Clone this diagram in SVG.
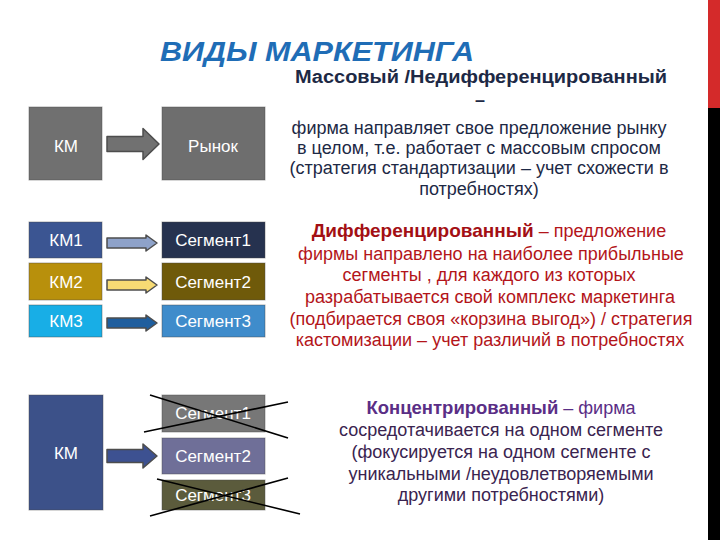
<svg xmlns="http://www.w3.org/2000/svg" width="720" height="540" viewBox="0 0 720 540">
<style>
  text { font-family: "Liberation Sans", Arial, sans-serif; }
  .box { stroke: #4a4a4a; stroke-opacity: 0.45; stroke-width: 1; }
  .lbl { fill: #ffffff; font-size: 17px; text-anchor: middle; }
  .arr { stroke: #4d4d4d; stroke-width: 1.5; stroke-linejoin: round; }
  .cross { stroke: #000; stroke-width: 1.6; }
  .mass { fill: #1d2945; font-size: 18px; text-anchor: middle; }
  .diff { fill: #b3151a; font-size: 18px; text-anchor: middle; }
  .conc { fill: #3a2450; font-size: 18px; text-anchor: middle; }
</style>
<rect width="720" height="540" fill="#ffffff"/>
<rect x="708" y="0" width="12" height="108" fill="#d42a2a"/>
<rect x="708" y="108" width="12" height="432" fill="#000000"/>

<text x="160" y="61" font-size="28" font-weight="bold" font-style="italic" fill="#1f6db6" textLength="314" lengthAdjust="spacingAndGlyphs">ВИДЫ МАРКЕТИНГА</text>

<g id="mass-node-km">
  <rect class="box" x="29" y="107" width="73" height="73" fill="#707070"/>
  <text class="lbl" x="66" y="152">КМ</text>
</g>
<g id="mass-node-market">
  <rect class="box" x="162" y="107" width="103" height="73" fill="#6e6e6e"/>
  <text class="lbl" x="213" y="152" fill="#eeeeee">Рынок</text>
</g>

<g id="diff-node-km1"><rect class="box" x="29" y="222" width="73" height="36" fill="#3b5592"/><text class="lbl" x="66" y="246">КМ1</text></g>
<g id="diff-node-seg1"><rect class="box" x="162" y="222" width="103" height="36" fill="#26324f"/><text class="lbl" x="213" y="246">Сегмент1</text></g>
<g id="diff-node-km2"><rect class="box" x="29" y="263" width="73" height="37" fill="#b8900c"/><text class="lbl" x="66" y="288">КМ2</text></g>
<g id="diff-node-seg2"><rect class="box" x="162" y="263" width="103" height="37" fill="#6f5a0a"/><text class="lbl" x="213" y="288">Сегмент2</text></g>
<g id="diff-node-km3"><rect class="box" x="29" y="305" width="73" height="32" fill="#18aee6"/><text class="lbl" x="66" y="327">КМ3</text></g>
<g id="diff-node-seg3"><rect class="box" x="162" y="305" width="103" height="32" fill="#3f8ccb"/><text class="lbl" x="213" y="327">Сегмент3</text></g>

<g id="conc-node-km"><rect class="box" x="29" y="395" width="74" height="115" fill="#3c5189"/><text class="lbl" x="66" y="459">КМ</text></g>
<g id="conc-node-seg1"><rect class="box" x="162" y="395" width="103" height="37" fill="#777777"/><text class="lbl" x="213" y="419">Сегмент1</text></g>
<g id="conc-node-seg2"><rect class="box" x="162" y="438" width="103" height="36" fill="#6f6f98"/><text class="lbl" x="213" y="462">Сегмент2</text></g>
<g id="conc-node-seg3"><rect class="box" x="162" y="480" width="103" height="30" fill="#5b5b3c"/><text class="lbl" x="213" y="501">Сегмент3</text></g>

<g id="connectors">
  <path class="arr" fill="#717171" d="M107,136.5 H143 V128.5 L159,144 L143,159.5 V151.5 H107 Z"/>
  <path class="arr" fill="#8ea2c9" d="M107,238 H146 V235 L157,243 L146,251 V248 H107 Z"/>
  <path class="arr" fill="#f7db74" d="M107,280 H146 V277 L157,285 L146,293 V290 H107 Z"/>
  <path class="arr" fill="#1f5e9e" d="M107,318 H146 V315 L157,323 L146,331 V328 H107 Z"/>
  <path class="arr" fill="#3d5191" d="M107,449.5 H143 V444 L157,456 L143,468 V462.5 H107 Z"/>
</g>

<g id="crosses">
  <line class="cross" x1="150" y1="395" x2="288" y2="438"/>
  <line class="cross" x1="144" y1="432" x2="288" y2="402"/>
  <line class="cross" x1="157" y1="479" x2="300" y2="514"/>
  <line class="cross" x1="150" y1="516" x2="288" y2="478"/>
</g>

<g id="mass-text">
  <text class="mass" x="481" y="83" font-size="19" font-weight="bold" textLength="372" lengthAdjust="spacingAndGlyphs">Массовый /Недифференцированный</text>
  <text class="mass" x="480" y="106" font-size="19" font-weight="bold">–</text>
  <text class="mass" x="479" y="134">фирма направляет свое предложение рынку</text>
  <text class="mass" x="479" y="154">в целом, т.е. работает с массовым спросом</text>
  <text class="mass" x="479" y="174">(стратегия стандартизации – учет схожести в</text>
  <text class="mass" x="479" y="195">потребностях)</text>
</g>

<g id="diff-text">
  <text class="diff" x="489" y="237"><tspan font-weight="bold" fill="#a30f14" font-size="19">Дифференцированный</tspan> – предложение</text>
  <text class="diff" x="491" y="260">фирмы направлено на наиболее прибыльные</text>
  <text class="diff" x="489" y="281">сегменты , для каждого из которых</text>
  <text class="diff" x="490" y="303">разрабатывается свой комплекс маркетинга</text>
  <text class="diff" x="491" y="325">(подбирается своя «корзина выгод») / стратегия</text>
  <text class="diff" x="490" y="346">кастомизации – учет различий в потребностях</text>
</g>

<g id="conc-text">
  <text class="conc" x="501" y="414"><tspan font-weight="bold" fill="#5a2e86" font-size="18.5">Концентрированный</tspan><tspan fill="#5a2e86"> – фирма</tspan></text>
  <text class="conc" x="501" y="436">сосредотачивается на одном сегменте</text>
  <text class="conc" x="501" y="458">(фокусируется на одном сегменте с</text>
  <text class="conc" x="501" y="480">уникальными /неудовлетворяемыми</text>
  <text class="conc" x="501" y="501">другими потребностями)</text>
</g>
</svg>
